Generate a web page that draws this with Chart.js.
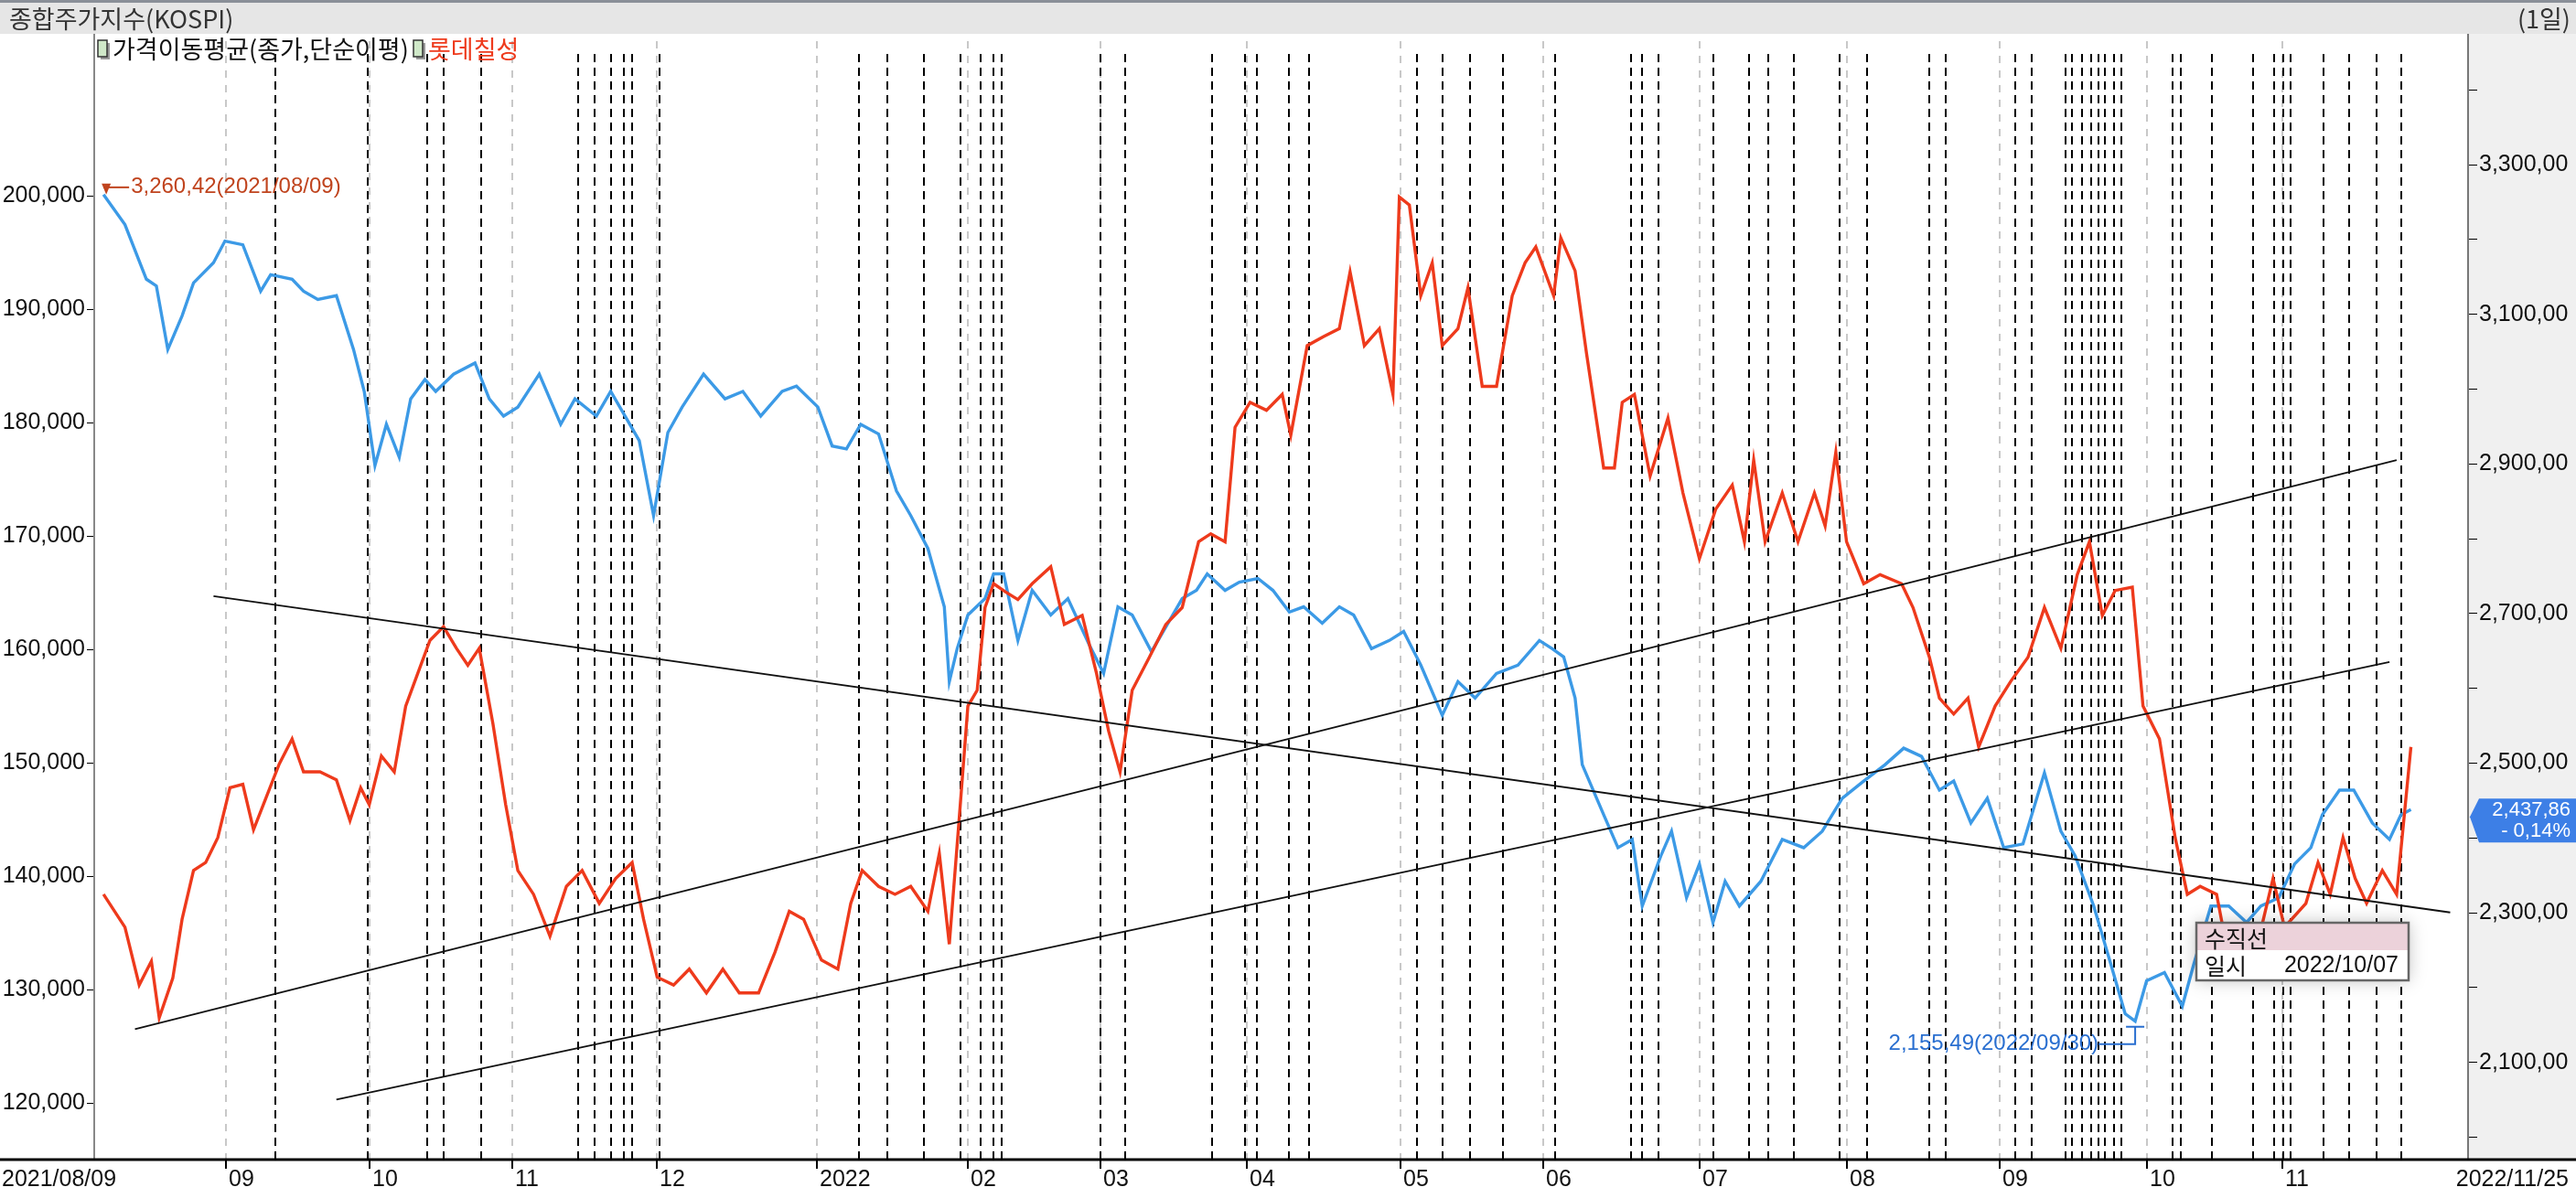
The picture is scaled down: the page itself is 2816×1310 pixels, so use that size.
<!DOCTYPE html>
<html><head><meta charset="utf-8">
<script src="https://cdn.jsdelivr.net/npm/chart.js@4/dist/chart.umd.min.js"></script>
<style>html,body{margin:0;padding:0;background:#fff;overflow:hidden}</style>
</head><body>
<canvas id="c" width="2816" height="1310"></canvas>
<script>
// trading-day index (0 = 2021/08/09) and values
const kospiX=[0,3,6,7.4,9,11,12.6,15.4,17,19.5,22,23.4,26.4,28,30,32.6,35,36.5,38,39.6,41.4,43,45,46.5,49,52,54,56,58,61,64,66,69,71,73,75,77,79,81,84,87,89.5,92,95,97,100,102,104,106,108.5,111,113,115.4,117.7,118.4,119.5,121,123.4,124.6,126,128,130,132.6,135,138,140,142,144,146.7,149,151,153,154.5,157,159,161.6,163.7,166,168,170.6,173,175,177.5,180,182,184.4,187.4,189.6,192,195,198,201,202.8,204.4,206,207,210,212,214,215.4,218,219.5,221.6,223.4,225.3,227,229,232,235,238,240.6,243.4,246.4,249.4,252,254.5,257,259,261.4,263.7,266,268.7,271.7,274,276,278.6,281,283,284.4,286,288.5,291,292.6,295,297.5,300,302,304.5,306.7,309,310.6,313,315,317.6,320,321.6,323];
const kospiY=[3260,3220,3147,3138,3053,3098,3142,3169,3198,3193,3131,3153,3147,3131,3120,3125,3053,2997,2898,2953,2909,2987,3013,2997,3020,3035,2987,2964,2976,3020,2953,2987,2964,2997,2964,2931,2831,2942,2976,3020,2987,2997,2964,2997,3004,2976,2924,2920,2953,2940,2864,2831,2787,2709,2609,2653,2698,2720,2753,2753,2664,2731,2698,2720,2658,2620,2709,2698,2649,2687,2720,2731,2753,2731,2742,2747,2731,2702,2709,2687,2709,2698,2653,2664,2676,2631,2564,2609,2587,2620,2631,2664,2653,2642,2587,2498,2431,2387,2398,2309,2376,2409,2320,2365,2287,2342,2309,2342,2398,2387,2409,2453,2476,2498,2520,2509,2464,2476,2420,2453,2387,2392,2487,2409,2376,2309,2231,2165,2155,2209,2220,2175,2231,2309,2309,2287,2309,2320,2365,2387,2431,2464,2464,2420,2398,2431,2437.86];
const lotteX=[0,3,5,6.7,7.8,9.7,11,12.6,14.3,16,17.7,19.5,21,22.8,24.6,26.4,28,30.3,32.6,34.5,36,37.2,38.9,40.7,42.3,44,45.7,47.6,49.4,51,52.6,54.5,56.3,58,60.2,62.5,64.8,67,69.4,71.7,74,75.6,77.5,79.8,82,84.4,86.7,89,91.7,94,96,98,100.5,102.8,104.6,106.2,108.5,110.8,113,115.4,117,118.4,119.8,121,122.3,123.4,124.6,126.2,128,130,132.6,134.5,137,139,140.7,142.3,144,146.4,148.7,151,153.3,155,157,158.4,160.5,162.8,165,166.2,168.5,170.8,173,174.5,176.5,178.6,180.5,181.4,182.8,184.4,186,187.4,189.6,191,193,195,197.2,199,200.5,203,204,206,207.6,210,211.5,212.6,214.3,216.5,219,221.1,223.4,225.7,228,229.7,231,232.6,235,237.2,239.5,241,242.5,244,246.4,248.7,251.7,253.3,255.6,257,259,261,262.5,264.8,267,269.4,271.7,274,276.3,278,279.8,281.6,284,285.5,287.8,290,291.7,293.5,295.8,298,300.7,303.7,305.3,308.3,310,311.7,313.5,315.2,316.8,319,321,323];
const lotteY=[138400,135500,130400,132500,127500,131000,136200,140500,141200,143400,147800,148100,144100,147000,149900,152100,149200,149200,148500,144900,147800,146300,150600,149200,155000,157900,160800,162000,160100,158600,160100,153500,146300,140500,138400,134700,139100,140500,137600,139800,141200,136200,131100,130400,131800,129700,131800,129700,129700,133300,136900,136200,132600,131800,137600,140500,139100,138400,139100,136900,142000,134000,145200,155000,156400,163700,165800,165100,164400,165800,167300,162200,163000,157900,152800,149200,156400,159300,162200,163700,169500,170200,169500,179600,181800,181100,182500,178900,186800,187600,188300,193300,186800,188300,182500,199900,199200,191200,194100,186800,188300,191900,183200,183200,191200,194100,195500,191200,196300,193400,186100,176000,176000,181800,182500,175300,180400,173800,168000,172400,174500,169500,176700,169500,173800,169500,173800,170900,177400,169500,165800,166600,165800,163700,159300,155700,154300,155700,151400,155000,157200,159300,163700,160100,166600,169500,163000,165200,165500,155000,152100,143400,138400,139100,138400,131100,131800,139800,135500,137600,141200,138400,143400,139800,137600,140500,138400,151400];
const trendLines=[[15.4,164700,328.5,136800],[4.4,126500,321,176700],[32.6,120300,320,158900]];
const monthIdx=[17.2,37.2,57.2,77.5,99.8,121,139.5,160,181.6,201.6,223.4,244,265.5,286,305];
const monthLabels=['09','10','11','12','2022','02','03','04','05','06','07','08','09','10','11'];
const vlines=[24.1,37,45.3,47.6,52.9,66.4,68.7,71,72.9,74,77.9,105.7,109.7,114.9,120,122.8,124.6,125.7,139.5,143,155.2,159.8,161.4,166,168.7,183.9,187.4,191.3,195.9,203.2,213.8,215.4,217.7,225.3,230.3,233.1,236.6,243,246.9,255.6,257.9,267.6,269.9,274.7,275.6,277,278.2,279.3,280.2,281.4,282.5,289.7,290.8,295.2,300.9,303.9,305.1,306.2,310.8,314.3,318.2,321.6];
const FONT='"Liberation Sans","Noto Sans CJK KR",sans-serif';
const KFONT='"Noto Sans CJK KR","Liberation Sans",sans-serif';
const RED='#ee3a1c', BLUE='#3c9ae6';

const ds=[
 {label:'kospi',data:kospiX.map((x,i)=>({x,y:kospiY[i]})),yAxisID:'yR',borderColor:BLUE,borderWidth:3.4,pointRadius:0,tension:0,order:2},
 {label:'lotte',data:lotteX.map((x,i)=>({x,y:lotteY[i]})),yAxisID:'yL',borderColor:RED,borderWidth:3.4,pointRadius:0,tension:0,order:1}
];
trendLines.forEach(t=>ds.push({label:'t',data:[{x:t[0],y:t[1]},{x:t[2],y:t[3]}],yAxisID:'yL',borderColor:'#111',borderWidth:1.8,pointRadius:0,order:0}));

const deco={id:'deco',
 beforeDraw(ch){const c=ch.ctx,a=ch.chartArea;c.save();c.fillStyle='#fff';c.fillRect(0,0,2816,1310);
  c.fillStyle='#f0f0f0';c.fillRect(a.right,37,2816-a.right,a.bottom-37);
  c.fillStyle='#e6e6e6';c.fillRect(0,0,2816,37);c.fillStyle='#8a8f98';c.fillRect(0,0,2816,3);
  c.fillStyle='#333';c.font='27px '+KFONT;c.textBaseline='middle';c.fillText('종합주가지수(KOSPI)',10,21);
  c.textAlign='right';c.fillText('(1일)',2810,21);
  const x=ch.scales.x;
  c.setLineDash([8,8]);c.lineWidth=2;c.strokeStyle='#c8c8c8';
  monthIdx.forEach(m=>{const px=Math.round(x.getPixelForValue(m));c.beginPath();c.moveTo(px,a.top+8);c.lineTo(px,a.bottom);c.stroke();});
  c.strokeStyle='#000';c.setLineDash([9,6]);
  vlines.forEach(m=>{const px=Math.round(x.getPixelForValue(m));c.beginPath();c.moveTo(px,a.top+22);c.lineTo(px,a.bottom);c.stroke();});
  c.restore();},
 afterDraw(ch){const c=ch.ctx,a=ch.chartArea,x=ch.scales.x,yR=ch.scales.yR;c.save();
  c.strokeStyle='#888';c.lineWidth=2;c.beginPath();c.moveTo(a.left,37);c.lineTo(a.left,a.bottom);c.stroke();
  c.strokeStyle='#777';c.beginPath();c.moveTo(a.right,37);c.lineTo(a.right,a.bottom);c.stroke();
  c.strokeStyle='#000';c.lineWidth=3;c.beginPath();c.moveTo(0,a.bottom);c.lineTo(2816,a.bottom);c.stroke();
  c.lineWidth=2;c.font='25px '+FONT;c.fillStyle='#111';c.textBaseline='top';c.textAlign='left';
  monthIdx.forEach((m,i)=>{const px=Math.round(x.getPixelForValue(m));c.beginPath();c.moveTo(px,a.bottom);c.lineTo(px,a.bottom+10);c.stroke();c.fillText(monthLabels[i],px+3,a.bottom+10);});
  c.fillText('2021/08/09',2,a.bottom+10);c.textAlign='right';c.fillText('2022/11/25',2808,a.bottom+10);
  c.textBaseline='middle';c.textAlign='left';
  [[107,'가격이동평균(종가,단순이평)','#111'],[452,'롯데칠성',RED]].forEach(([lx,t,col])=>{
   c.fillStyle='#999';c.fillRect(lx+3,47,10,18);c.fillStyle='#cfe8c8';c.fillRect(lx,44,10,18);c.strokeStyle='#333';c.lineWidth=1.5;c.strokeRect(lx,44,10,18);
   c.fillStyle=col;c.font='27px '+KFONT;c.fillText(t,lx+16,54);});
  const p0x=x.getPixelForValue(kospiX[0]),p0y=yR.getPixelForValue(kospiY[0]);
  c.strokeStyle='#c0441e';c.lineWidth=2;c.beginPath();c.moveTo(p0x,p0y-8);c.lineTo(p0x+28,p0y-8);c.stroke();
  c.fillStyle='#c0441e';c.beginPath();c.moveTo(p0x-2,p0y-12);c.lineTo(p0x+8,p0y-12);c.lineTo(p0x+3,p0y);c.fill();
  c.font='24px '+FONT;c.fillText('3,260,42(2021/08/09)',p0x+30,p0y-8);
  const mi=kospiY.indexOf(Math.min(...kospiY));const mx=x.getPixelForValue(kospiX[mi]),my=yR.getPixelForValue(kospiY[mi]);
  c.strokeStyle='#2a6fd0';c.beginPath();c.moveTo(mx-10,my+6);c.lineTo(mx+10,my+6);c.moveTo(mx,my+6);c.lineTo(mx,my+25);c.lineTo(mx-40,my+25);c.stroke();
  c.fillStyle='#2a6fd0';c.textAlign='right';c.fillText('2,155,49(2022/09/30)',mx-40,my+25);
  const by=yR.getPixelForValue(kospiY[kospiY.length-1]);
  c.fillStyle='#3d7fe6';c.beginPath();c.moveTo(a.right+2,by+8);c.lineTo(a.right+12,by-12);c.lineTo(2816,by-12);c.lineTo(2816,by+36);c.lineTo(a.right+12,by+36);c.closePath();c.fill();
  c.fillStyle='#fff';c.textAlign='right';c.font='22px '+FONT;c.fillText('2,437,86',2810,by+1);c.fillText('- 0,14%',2810,by+24);
  c.shadowColor='rgba(0,0,0,0.25)';c.shadowBlur=18;c.fillStyle='#fff';c.fillRect(2401,1009,232,63);c.shadowBlur=0;
  c.fillStyle='#ecd2da';c.fillRect(2401,1009,232,30);c.strokeStyle='#666';c.lineWidth=2.5;c.strokeRect(2401,1009,232,63);
  c.fillStyle='#111';c.textAlign='left';c.font='25px '+KFONT;c.fillText('수직선',2410,1026);c.fillText('일시',2410,1056);
  c.textAlign='right';c.font='25px '+FONT;c.fillText('2022/10/07',2622,1056);
  c.restore();}
};

new Chart(document.getElementById('c'),{type:'line',data:{datasets:ds},
 options:{responsive:false,devicePixelRatio:1,animation:false,
  layout:{padding:{top:37,bottom:42,left:0,right:0}},
  plugins:{legend:{display:false},tooltip:{enabled:false}},
  scales:{
   x:{type:'linear',min:-1.3,max:331,display:false},
   yL:{position:'left',min:115000,max:214300,afterFit(s){s.width=103;},
    afterBuildTicks(s){s.ticks=[];for(let v=120000;v<=200000;v+=10000)s.ticks.push({value:v});},
    grid:{drawOnChartArea:false,color:'#000',tickLength:8},border:{display:false},
    ticks:{color:'#111',font:{size:25,family:FONT},padding:2,callback:v=>v.toLocaleString('en-US')}},
   yR:{position:'right',min:1970,max:3475,afterFit(s){s.width=118;},
    afterBuildTicks(s){s.ticks=[];for(let v=2000;v<=3400;v+=100)s.ticks.push({value:v});},
    grid:{drawOnChartArea:false,color:'#000',tickLength:10},border:{display:false},
    ticks:{color:'#111',font:{size:25,family:FONT},padding:2,callback:v=>(v%200===100)?(v.toLocaleString('en-US')+',00'):''}}
  }},
 plugins:[deco]});
</script></body></html>
